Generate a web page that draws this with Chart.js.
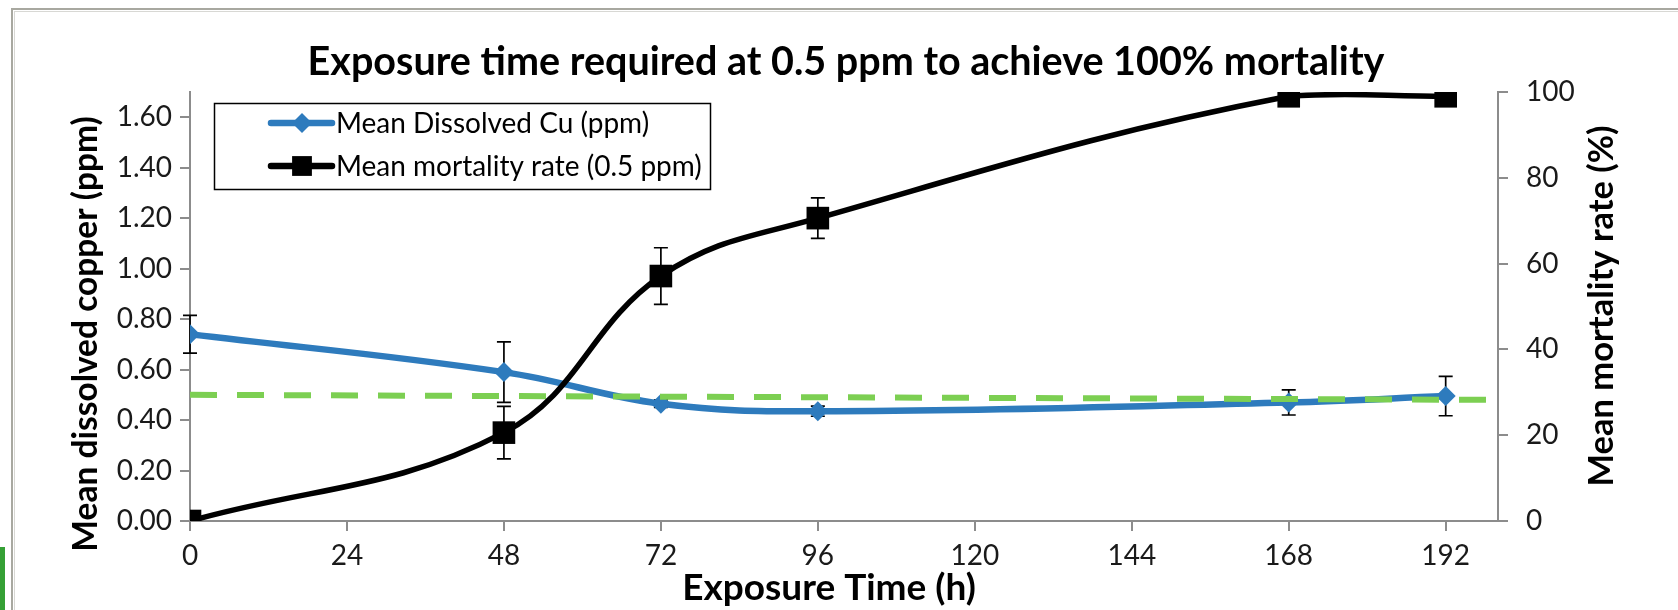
<!DOCTYPE html>
<html><head><meta charset="utf-8">
<script src="https://cdn.jsdelivr.net/npm/chart.js@4.4.1/dist/chart.umd.min.js"></script>
<style>html,body{margin:0;padding:0;background:#fff}#wrap{width:1678px;height:610px;position:relative}</style>
</head><body><div id="wrap"><canvas id="c" width="1678" height="610"></canvas></div>
<script>
const hours = [0, 48, 72, 96, 168, 192];
const copperPpm = [0.74, 0.59, 0.465, 0.435, 0.47, 0.495];
const copperErr = [0.075, 0.12, 0.015, 0.02, 0.05, 0.078];
const mortalityPct = [0, 20.6, 57.1, 70.6, 99, 99];
const mortalityErr = [0, 6.1, 6.6, 4.7, 0, 0];
const targetHours = [0, 200];
const targetPpm = [0.50, 0.48];
const xTicks = [0, 24, 48, 72, 96, 120, 144, 168, 192];
const leftTicks = [0, 0.2, 0.4, 0.6, 0.8, 1.0, 1.2, 1.4, 1.6];
const rightTicks = [0, 20, 40, 60, 80, 100];
const titleText = 'Exposure time required at 0.5 ppm to achieve 100% mortality';
const xTitle = 'Exposure Time (h)';
const leftTitle = 'Mean dissolved copper (ppm)';
const rightTitle = 'Mean mortality rate (%)';
const copperLabel = 'Mean Dissolved Cu (ppm)';
const mortalityLabel = 'Mean mortality rate (0.5 ppm)';

const BLUE = '#2e7bbd', GREEN = '#7ccf52', AXIS = '#8c8c8c';
const FONT = 'Lato';

const errorBars = {
  id: 'errorBars',
  beforeDatasetDraw(chart, args) {
    const ds = chart.data.datasets[args.index];
    if (!ds.errors) return;
    const xs = chart.scales.x, ys = chart.scales[ds.yAxisID];
    const c = chart.ctx;
    c.save();
    c.strokeStyle = '#000'; c.lineWidth = 1.7;
    ds.data.forEach((p, i) => {
      const e = ds.errors[i]; if (!e) return;
      const px = xs.getPixelForValue(p.x);
      const t = ys.getPixelForValue(p.y + e), b = ys.getPixelForValue(p.y - e);
      c.beginPath();
      c.moveTo(px, t); c.lineTo(px, b);
      c.moveTo(px - 7, t); c.lineTo(px + 7, t);
      c.moveTo(px - 7, b); c.lineTo(px + 7, b);
      c.stroke();
    });
    c.restore();
  }
};

const decor = {
  id: 'decor',
  beforeDraw(chart) {
    const c = chart.ctx;
    c.save();
    c.fillStyle = '#fff'; c.fillRect(0, 0, chart.width, chart.height);
    c.strokeStyle = '#a8a8a0'; c.lineWidth = 2;
    c.strokeRect(12, 9, 1800, 800);
    c.strokeStyle = '#d8d8d4'; c.lineWidth = 1;
    c.strokeRect(14.5, 11.5, 1800, 800);
    c.fillStyle = '#35a035'; c.fillRect(0, 547, 5, 63);
    c.restore();
  },
  afterDraw(chart) {
    const c = chart.ctx;
    c.save();
    c.fillStyle = '#000';
    c.textAlign = 'center'; c.textBaseline = 'middle';
    c.font = 'bold 39.5px ' + FONT;
    c.fillText(titleText, 846, 62);
    c.font = 'bold 37px ' + FONT;
    c.fillText(xTitle, 829, 588);
    c.save(); c.font = 'bold 33.5px ' + FONT; c.translate(86, 334); c.rotate(-Math.PI / 2); c.fillText(leftTitle, 0, 0); c.restore();
    c.save(); c.font = 'bold 34.5px ' + FONT; c.translate(1602, 306); c.rotate(-Math.PI / 2); c.fillText(rightTitle, 0, 0); c.restore();
    // legend
    c.strokeStyle = '#000'; c.lineWidth = 1.5;
    c.strokeRect(214.5, 103.5, 496, 86);
    const entries = [
      {y: 123, color: BLUE, label: copperLabel, style: 'rectRot', r: 10},
      {y: 166, color: '#000', label: mortalityLabel, style: 'rect', r: 14}
    ];
    entries.forEach(en => {
      c.strokeStyle = en.color; c.lineWidth = 6.5; c.lineCap = 'round';
      c.beginPath(); c.moveTo(271, en.y); c.lineTo(332, en.y); c.stroke();
      c.fillStyle = en.color;
      Chart.helpers.drawPoint(c, {pointStyle: en.style, radius: en.r, borderWidth: 0}, 302, en.y);
      c.fillStyle = '#000';
      c.textAlign = 'left'; c.textBaseline = 'middle';
      c.font = '28px ' + FONT;
      c.fillText(en.label, 336, en.y + 1);
    });
    c.restore();
  }
};

const tickFont = {family: FONT, size: 28};
const gridOpts = {drawOnChartArea: false, drawTicks: true, tickLength: 10, color: AXIS, lineWidth: 2};
const borderOpts = {display: true, color: AXIS, width: 2};

new Chart(document.getElementById('c'), {
  type: 'scatter',
  data: {
    datasets: [
      {
        label: mortalityLabel,
        data: hours.map((h, i) => ({x: h, y: mortalityPct[i]})),
        errors: mortalityErr,
        yAxisID: 'y1', showLine: true, tension: 0.4,
        borderColor: '#000', backgroundColor: '#000', borderWidth: 5.5,
        pointStyle: 'rect', pointRadius: 16, pointBorderWidth: 0, order: 0
      },
      {
        label: 'target',
        data: targetHours.map((h, i) => ({x: h, y: targetPpm[i]})),
        yAxisID: 'y', showLine: true,
        borderColor: GREEN, borderWidth: 6, borderDash: [27, 20], pointRadius: 0, order: 1
      },
      {
        label: copperLabel,
        data: hours.map((h, i) => ({x: h, y: copperPpm[i]})),
        errors: copperErr,
        yAxisID: 'y', showLine: true, tension: 0.4,
        borderColor: BLUE, backgroundColor: BLUE, borderWidth: 6.5,
        pointStyle: 'rectRot', pointRadius: 10, pointBorderWidth: 0, order: 2
      }
    ]
  },
  options: {
    responsive: false, animation: false, devicePixelRatio: 1,
    layout: {padding: {top: 92, left: 0, right: 0, bottom: 0}},
    plugins: {legend: {display: false}, tooltip: {enabled: false}, title: {display: false}},
    scales: {
      x: {
        type: 'linear', min: 0, max: 200,
        afterBuildTicks: s => { s.ticks = xTicks.map(v => ({value: v})); },
        afterFit: s => { s.height = 89; },
        ticks: {font: tickFont, color: '#1a1a1a', padding: 8, maxRotation: 0, autoSkip: false},
        grid: gridOpts, border: borderOpts
      },
      y: {
        position: 'left', min: 0, max: 1.7,
        afterBuildTicks: s => { s.ticks = leftTicks.map(v => ({value: v})); },
        afterFit: s => { s.width = 190; },
        ticks: {font: tickFont, color: '#1a1a1a', padding: 8, callback: v => Number(v).toFixed(2)},
        grid: gridOpts, border: borderOpts
      },
      y1: {
        position: 'right', min: 0, max: 100,
        afterBuildTicks: s => { s.ticks = rightTicks.map(v => ({value: v})); },
        afterFit: s => { s.width = 180; },
        ticks: {font: tickFont, color: '#1a1a1a', padding: 18},
        grid: gridOpts, border: borderOpts
      }
    }
  },
  plugins: [errorBars, decor]
});
</script></body></html>
